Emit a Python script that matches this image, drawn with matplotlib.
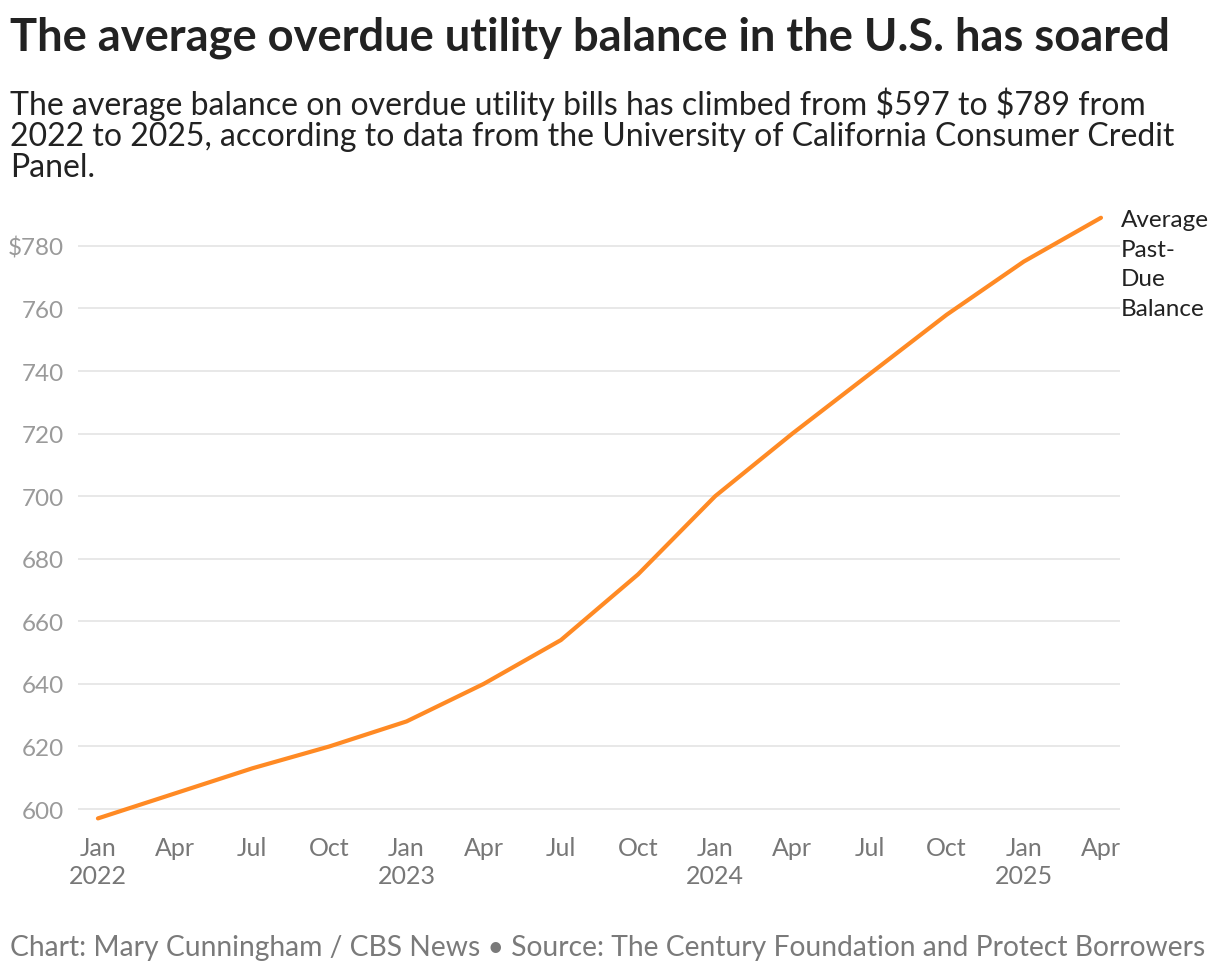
import matplotlib
matplotlib.use("Agg")
import matplotlib.pyplot as plt

months = ["Jan\n2022", "Apr", "Jul", "Oct", "Jan\n2023", "Apr", "Jul", "Oct",
          "Jan\n2024", "Apr", "Jul", "Oct", "Jan\n2025", "Apr"]
balance = [597, 605, 613, 620, 628, 640, 654, 675, 700, 720, 739, 758, 775, 789]
yticks = [600, 620, 640, 660, 680, 700, 720, 740, 760, 780]
ytick_labels = ["600", "620", "640", "660", "680", "700", "720", "740", "760", "$780"]

FONT = "Lato"
fig = plt.figure(figsize=(12.2, 9.78), dpi=100)
ax = fig.add_axes([0.0639, 0.1513, 0.918 - 0.0639, 0.7904 - 0.1513])

x = list(range(len(balance)))
ax.plot(x, balance, color="#ff8a24", lw=3, solid_capstyle="round", zorder=3)
ax.set_xlim(-0.259, 13.246)
ax.set_ylim(593.6, 793.4)
ax.set_yticks(yticks)
ax.set_yticklabels(ytick_labels, fontfamily=FONT, fontsize=17.5, color="#9a9a9a")
ax.set_xticks(x)
ax.set_xticklabels(months, fontfamily=FONT, fontsize=18, color="#777777", linespacing=1.25)
ax.tick_params(axis="both", length=0)
ax.tick_params(axis="y", pad=10)
ax.tick_params(axis="x", pad=5)
ax.grid(axis="y", color="#e6e6e6", lw=1.3)
ax.set_axisbelow(True)
for s in ax.spines.values():
    s.set_visible(False)

ax.annotate("Average\nPast-\nDue\nBalance", xy=(x[-1], balance[-1]), xytext=(14, 6),
            textcoords="offset points", ha="left", va="top", fontfamily=FONT,
            fontsize=17.5, color="#222222", linespacing=1.5, annotation_clip=False)

fig.text(10/1220, 1 - 38/978, "The average overdue utility balance in the U.S. has soared",
         fontfamily=FONT, fontweight="bold", fontsize=32.6, color="#222222", va="center")
fig.text(10/1220, 1 - 135/978,
         "The average balance on overdue utility bills has climbed from \\$597 to \\$789 from\n"
         "2022 to 2025, according to data from the University of California Consumer Credit\n"
         "Panel.",
         fontfamily=FONT, fontsize=23, color="#222222", va="center", linespacing=1.05)
fig.text(10/1220, 1 - 948/978,
         "Chart: Mary Cunningham / CBS News \u2022 Source: The Century Foundation and Protect Borrowers",
         fontfamily=FONT, fontsize=20.3, color="#7a7a7a", va="center")

fig.savefig("out.png", dpi=100)
